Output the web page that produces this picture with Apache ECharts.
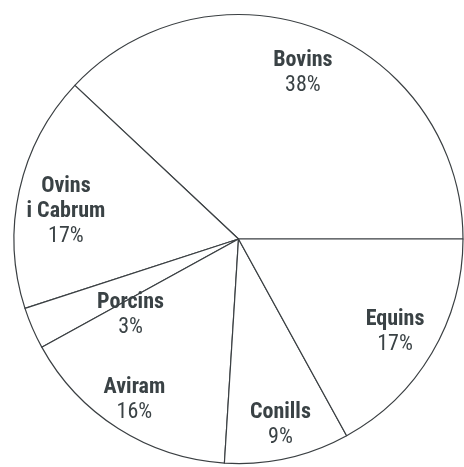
<!DOCTYPE html>
<html><head><meta charset="utf-8">
<script src="https://cdn.jsdelivr.net/npm/echarts@6/dist/echarts.min.js"></script>
<style>html,body{margin:0;padding:0;background:#fff}#c{width:464px;height:467px}</style>
</head><body><div id="c"></div>
<script>
const categories = ['Bovins', 'Ovins\ni Cabrum', 'Porcins', 'Aviram', 'Conills', 'Equins'];
const values = [38, 17, 3, 16, 9, 17];
const labelOffsets = [[-3,4],[6,12],[60,3],[-6,6],[2,7],[-1,0]];

const FONT = "'Roboto Condensed','Liberation Sans Narrow','Arial Narrow',Roboto,sans-serif";
const data = categories.map((n, i) => ({ name: n, value: values[i] }));
const labelData = categories.map((n, i) => ({ name: n, value: values[i], label: { offset: labelOffsets[i] } }));

const chart = echarts.init(document.getElementById('c'), null, { renderer: 'canvas' });
chart.setOption({
  animation: false,
  series: [
    {
      type: 'pie', center: [238.5, 239], radius: [0, 224.5], startAngle: 0, clockwise: false,
      silent: true, avoidLabelOverlap: false,
      itemStyle: { color: '#ffffff', borderColor: '#3a3f42', borderWidth: 1.2 },
      label: { show: false }, labelLine: { show: false },
      data: data
    },
    {
      type: 'pie', center: [238.5, 239], radius: [135, 225], startAngle: 0, clockwise: false,
      silent: true, avoidLabelOverlap: false,
      itemStyle: { color: 'rgba(0,0,0,0)', borderWidth: 0 },
      labelLine: { show: false },
      label: {
        show: true, position: 'inside',
        formatter: p => p.name.split('\n').map(s => '{b|' + s + '}').join('\n') + '\n{v|' + p.value + '%}',
        rich: {
          b: { fontFamily: FONT, fontWeight: 'bold', fontSize: 22, lineHeight: 25, color: '#3a4245' },
          v: { fontFamily: FONT, fontWeight: 'normal', fontSize: 22, lineHeight: 25, color: '#3a4245' }
        }
      },
      data: labelData
    }
  ]
});
</script></body></html>
